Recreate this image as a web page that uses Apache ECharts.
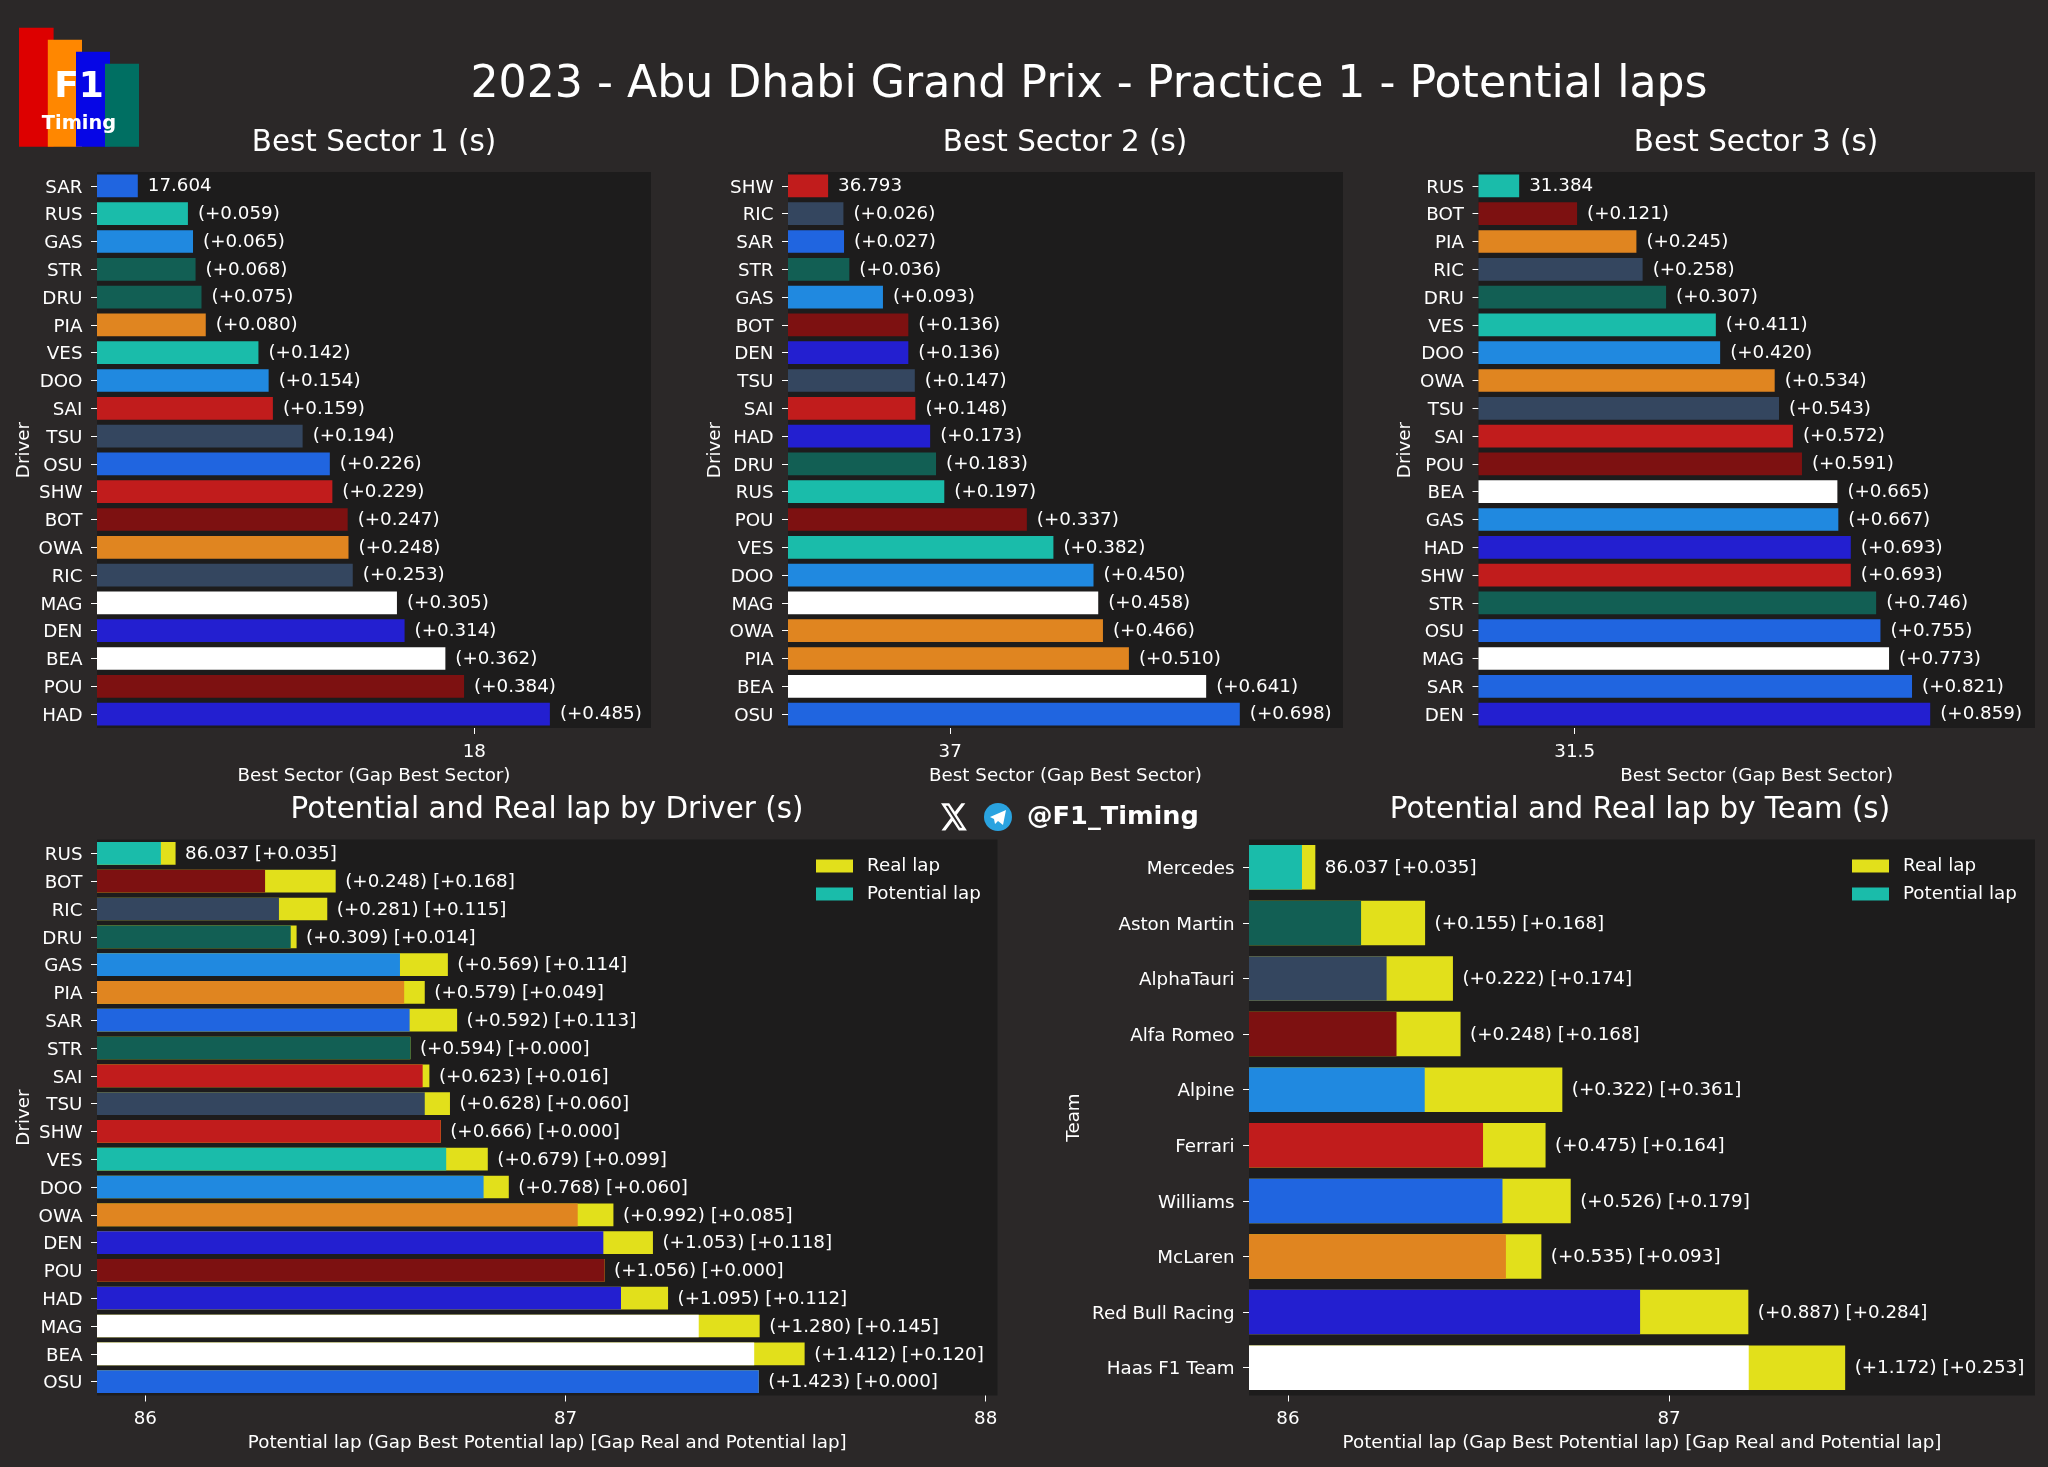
<!DOCTYPE html>
<html><head><meta charset="utf-8">
<style>html,body{margin:0;padding:0;background:#2b2828}#c{width:2048px;height:1467px}</style>
<script src="https://cdn.jsdelivr.net/npm/echarts@6/dist/echarts.min.js"></script>
</head><body><div id="c"></div>
<script>
const COL={WIL:'#2065e0',MER:'#1abcaa',ALP:'#2089e0',AST:'#125f54',MCL:'#e08520',FER:'#c11c1c',AT:'#34465f',ALF:'#7d1111',HAA:'#ffffff',RB:'#231fd0'};
const driverColor={SAR:COL.WIL,OSU:COL.WIL,RUS:COL.MER,VES:COL.MER,GAS:COL.ALP,DOO:COL.ALP,STR:COL.AST,DRU:COL.AST,PIA:COL.MCL,OWA:COL.MCL,SAI:COL.FER,SHW:COL.FER,TSU:COL.AT,RIC:COL.AT,BOT:COL.ALF,POU:COL.ALF,MAG:COL.HAA,BEA:COL.HAA,DEN:COL.RB,HAD:COL.RB};

const s1Drivers=['SAR','RUS','GAS','STR','DRU','PIA','VES','DOO','SAI','TSU','OSU','SHW','BOT','OWA','RIC','MAG','DEN','BEA','POU','HAD'];
const s1Gaps=[0,0.059,0.065,0.068,0.075,0.080,0.142,0.154,0.159,0.194,0.226,0.229,0.247,0.248,0.253,0.305,0.314,0.362,0.384,0.485];
const s1Best=17.604;
const s2Drivers=['SHW','RIC','SAR','STR','GAS','BOT','DEN','TSU','SAI','HAD','DRU','RUS','POU','VES','DOO','MAG','OWA','PIA','BEA','OSU'];
const s2Gaps=[0,0.026,0.027,0.036,0.093,0.136,0.136,0.147,0.148,0.173,0.183,0.197,0.337,0.382,0.450,0.458,0.466,0.510,0.641,0.698];
const s2Best=36.793;
const s3Drivers=['RUS','BOT','PIA','RIC','DRU','VES','DOO','OWA','TSU','SAI','POU','BEA','GAS','HAD','SHW','STR','OSU','MAG','SAR','DEN'];
const s3Gaps=[0,0.121,0.245,0.258,0.307,0.411,0.420,0.534,0.543,0.572,0.591,0.665,0.667,0.693,0.693,0.746,0.755,0.773,0.821,0.859];
const s3Best=31.384;
const lapDrivers=['RUS','BOT','RIC','DRU','GAS','PIA','SAR','STR','SAI','TSU','SHW','VES','DOO','OWA','DEN','POU','HAD','MAG','BEA','OSU'];
const lapGaps=[0,0.248,0.281,0.309,0.569,0.579,0.592,0.594,0.623,0.628,0.666,0.679,0.768,0.992,1.053,1.056,1.095,1.280,1.412,1.423];
const lapRealGaps=[0.035,0.168,0.115,0.014,0.114,0.049,0.113,0.000,0.016,0.060,0.000,0.099,0.060,0.085,0.118,0.000,0.112,0.145,0.120,0.000];
const lapBest=86.037;
const teams=['Mercedes','Aston Martin','AlphaTauri','Alfa Romeo','Alpine','Ferrari','Williams','McLaren','Red Bull Racing','Haas F1 Team'];
const teamColors=[COL.MER,COL.AST,COL.AT,COL.ALF,COL.ALP,COL.FER,COL.WIL,COL.MCL,COL.RB,COL.HAA];
const teamGaps=[0,0.155,0.222,0.248,0.322,0.475,0.526,0.535,0.887,1.172];
const teamRealGaps=[0.035,0.168,0.174,0.168,0.361,0.164,0.179,0.093,0.284,0.253];
const YEL='#e2e01b',FG='#ffffff',FONT='DejaVu Sans';
const f3=v=>v.toFixed(3);

const grids=[],xAxes=[],yAxes=[],series=[];
function axes(g,xmin,xmax,ticks,cats,xName,yName,yGap){
  const i=grids.length;
  grids.push({left:g[0],top:g[1],width:g[2],height:g[3],show:true,backgroundColor:'#1d1c1c',borderWidth:0,containLabel:false});
  xAxes.push({gridIndex:i,type:'value',min:xmin,max:xmax,splitLine:{show:false},axisLine:{show:false},
    axisTick:{show:true,length:6,lineStyle:{color:FG,width:1},customValues:ticks},
    axisLabel:{color:FG,fontSize:18.3,fontFamily:FONT,margin:15,customValues:ticks,formatter:v=>String(v)},
    name:xName,nameLocation:'middle',nameGap:39,nameTextStyle:{color:FG,fontSize:18.3,fontFamily:FONT}});
  yAxes.push({gridIndex:i,type:'category',inverse:true,data:cats,axisLine:{show:false},
    axisTick:{show:true,length:6,alignWithLabel:true,lineStyle:{color:FG,width:1}},
    axisLabel:{margin:14.5,formatter:'{a|{value}}',rich:{a:{color:FG,fontSize:18.3,fontFamily:FONT,padding:[4,0,0,0]}}},
    name:yName,nameLocation:'middle',nameGap:yGap,nameRotate:90,nameTextStyle:{color:FG,fontSize:18.3,fontFamily:FONT}});
  return i;
}
function sector(g,xmin,xmax,ticks,drivers,gaps,best,yGap){
  const i=axes(g,xmin,xmax,ticks,drivers,'Best Sector (Gap Best Sector)','Driver',yGap);
  series.push({type:'bar',name:'Best sector '+i,xAxisIndex:i,yAxisIndex:i,barWidth:'81.5%',clip:true,
    data:drivers.map((d,k)=>({value:best+gaps[k],gap:gaps[k],itemStyle:{color:driverColor[d]}})),
    label:{show:true,position:'right',distance:10,offset:[0,0.5],color:FG,fontSize:18.3,fontFamily:FONT,
      formatter:p=>p.data.gap===0?f3(best):'(+'+f3(p.data.gap)+')'}});
}
function lap(g,xmin,xmax,ticks,cats,colors,gaps,realGaps,best,yName,yGap,bw){
  const i=axes(g,xmin,xmax,ticks,cats,'Potential lap (Gap Best Potential lap) [Gap Real and Potential lap]',yName,yGap);
  series.push({type:'bar',name:'Real lap',xAxisIndex:i,yAxisIndex:i,barWidth:bw,barGap:'-100%',clip:true,itemStyle:{color:YEL},
    data:cats.map((c,k)=>({value:best+gaps[k]+realGaps[k],gap:gaps[k],real:realGaps[k]})),
    label:{show:true,position:'right',distance:9.5,offset:[0,1],color:FG,fontSize:18.3,fontFamily:FONT,
      formatter:p=>(p.data.gap===0?f3(best):'(+'+f3(p.data.gap)+')')+' [+'+f3(p.data.real)+']'}});
  series.push({type:'bar',name:'Potential lap',xAxisIndex:i,yAxisIndex:i,barWidth:bw,barGap:'-100%',clip:true,itemStyle:{color:COL.MER},
    data:cats.map((c,k)=>({value:best+gaps[k],itemStyle:{color:colors[k]}}))});
}
const H=556;
sector([97,172,554,H],17.556,18.208,[18],s1Drivers,s1Gaps,s1Best,64);
sector([788,172,555,H],36.725,37.666,[37],s2Drivers,s2Gaps,s2Best,64);
sector([1478.5,172,556.5,H],31.299,32.462,[31.5],s3Drivers,s3Gaps,s3Best,64);
lap([97,839.5,900.5,H],85.885,88.028,[86,87,88],lapDrivers,lapDrivers.map(d=>driverColor[d]),lapGaps,lapRealGaps,lapBest,'Driver',64,'81.5%');
lap([1249,839.5,786,H],85.898,87.96,[86,87],teams,teamColors,teamGaps,teamRealGaps,lapBest,'Team',166,'80%');

function T(text,cx,cy,size,weight){return {text,left:cx,top:cy,textAlign:'center',textVerticalAlign:'middle',padding:0,
  textStyle:{color:FG,fontSize:size,fontFamily:FONT,fontWeight:weight||'normal'}};}
const titles=[T('2023 - Abu Dhabi Grand Prix - Practice 1 - Potential laps',1089,86,44.2),
 T('Best Sector 1 (s)',374,143,29.4),T('Best Sector 2 (s)',1065,143,29.4),T('Best Sector 3 (s)',1756,143,29.4),
 T('Potential and Real lap by Driver (s)',547,810,29.4),T('Potential and Real lap by Team (s)',1640,810,29.4)];
const leg=x=>({show:true,orient:'vertical',left:x,top:857,itemWidth:37,itemHeight:13,itemGap:10,padding:0,icon:'rect',
  data:['Real lap','Potential lap'],selectedMode:false,textStyle:{color:FG,fontSize:18.3,fontFamily:FONT,padding:[0,0,0,9]}});
const rects=[[19,27.7,34.6,119,'#dd0000'],[47.8,39.7,34.2,107,'#ff8700'],[76,51.7,34,95,'#0606e6'],[105,63.7,34,83,'#006f62']];
echarts.graphic.registerShape('xlogo',echarts.graphic.extendPath('M18.244 2.25h3.308l-7.227 8.26 8.502 11.24H16.17l-5.214-6.817L4.99 21.75H1.68l7.73-8.835L1.254 2.25H8.08l4.713 6.231zm-1.161 17.52h1.833L7.084 4.126H5.117z',{}));
const graphic=[
 ...rects.map(r=>({type:'rect',shape:{x:r[0],y:r[1],width:r[2],height:r[3]},style:{fill:r[4]}})),
 {type:'text',style:{text:'F1',x:79,y:88,align:'center',verticalAlign:'middle',fill:'#fff',font:'bold 36px "DejaVu Sans"'},z:5},
 {type:'text',style:{text:'Timing',x:79,y:124,align:'center',verticalAlign:'middle',fill:'#fff',font:'bold 19.4px "DejaVu Sans"'},z:5},
 {type:'xlogo',x:939.5,y:800,scaleX:1.2,scaleY:1.4,style:{fill:'#fff'}},
 {type:'circle',shape:{cx:998,cy:817,r:14},style:{fill:'#2aa3e0'}},
 {type:'polygon',shape:{points:[[990,817],[1006,810],[1003,825],[998,821],[995,824],[994,819]]},style:{fill:'#fff'}},
 {type:'text',style:{text:'@F1_Timing',x:1027,y:817,align:'left',verticalAlign:'middle',fill:'#fff',font:'bold 25.6px "DejaVu Sans"'}}
];
const chart=echarts.init(document.getElementById('c'),null,{renderer:'canvas'});
chart.setOption({animation:false,backgroundColor:'#2b2828',title:titles,grid:grids,xAxis:xAxes,yAxis:yAxes,series,legend:[leg(816),leg(1852)],graphic,tooltip:{show:false}});
</script></body></html>
